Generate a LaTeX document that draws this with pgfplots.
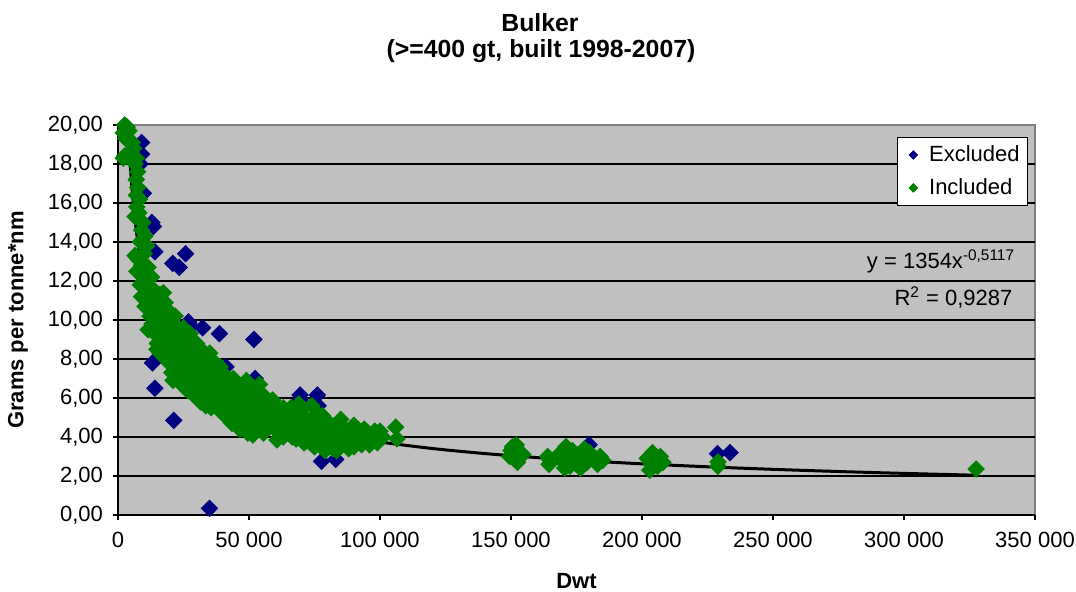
\documentclass[border=0pt]{standalone}
\usepackage{fontspec}
\setmainfont{Liberation Sans}
\usepackage{pgfplots}
\pgfplotsset{compat=1.18}
\definecolor{xlblue}{HTML}{000080}
\definecolor{xlgreen}{HTML}{008000}
\definecolor{xlplot}{HTML}{C0C0C0}
\definecolor{xlframe}{HTML}{808080}

\begin{document}
\begin{tikzpicture}
\useasboundingbox (0,0) rectangle (538pt,296pt);
\begin{axis}[
  at={(59pt,38.5pt)}, anchor=south west,
  scale only axis, width=458.5pt, height=195pt,
  xmin=0, xmax=350000, ymin=0, ymax=20,
  axis background/.style={fill=xlplot, draw=xlframe, line width=0.8pt},
  axis lines*=left, axis line style={-, black, line width=0.8pt},
  xtick={0,50000,...,350000},
  ytick={0,2,...,18}, extra y ticks={20}, extra y tick style={grid=none},
  ymajorgrids, major grid style={black, line width=0.7pt},
  tick align=outside, major tick length=2.5pt, tick style={black, line width=0.6pt},
  scaled x ticks=false,
  ticklabel style={font=\fontsize{11}{13}\selectfont, text=black},
  xticklabel style={yshift=-2.5pt, /pgf/number format/.cd, fixed, 1000 sep={\ }, assume math mode=true},
  yticklabel style={xshift=-1.5pt, /pgf/number format/.cd, fixed, fixed zerofill, precision=2, use comma, assume math mode=true},
  legend style={at={(0.9924,0.969)}, anchor=north east, draw=black, fill=white,
    font=\fontsize{11}{13}\selectfont, row sep=3pt, inner sep=2pt,
    cells={anchor=west}},
  legend image code/.code={\path (-0.05cm,0) (0.35cm,0);
    \draw[#1, mark size=1.5pt] plot coordinates {(0.15cm,0cm)};},
]
\addplot[only marks, color=xlblue, mark=square*, mark size=2.9pt,
  mark options={rotate=45, fill=xlblue, draw=xlblue}] table {
x y
9000 19.1
9000 18.5
8400 18.0
9700 16.5
12900 15.0
13500 14.8
14100 13.5
25800 13.4
20900 12.9
23400 12.7
26900 9.9
27700 9.7
32300 9.6
38700 9.3
51900 9.0
13200 7.8
41200 7.6
14100 6.5
52300 7.0
69500 6.15
69500 5.9
76100 6.15
76400 5.6
21300 4.85
34900 0.34
77700 2.75
83100 2.85
228800 3.15
233600 3.2
179800 3.6
};
\addlegendentry{Excluded}
\addplot[only marks, color=xlgreen, mark=square*, mark size=2.9pt,
  mark options={rotate=45, fill=xlgreen, draw=xlgreen}] table {
x y
2500 20.0
3500 19.9
4200 19.7
2000 19.6
3000 19.3
5500 19.1
6000 18.8
2500 18.4
2000 18.3
7000 18.3
6500 18.0
7500 17.6
7000 17.2
7500 16.8
7000 16.4
8200 16.2
7200 15.8
6500 15.3
8000 15.5
9500 15.0
9000 14.6
10300 14.3
8500 14.0
11000 13.8
10000 13.4
6500 13.3
7800 13.1
9000 12.8
7200 12.5
11500 12.7
10000 12.3
12800 12.2
9700 12.0
8500 11.8
11000 11.6
14000 11.5
9000 11.2
12000 11.0
10300 10.7
13500 10.9
16000 11.3
17300 11.4
18000 10.9
16000 10.5
19800 10.4
12200 10.2
14500 10.2
21800 10.2
13000 9.8
15500 9.9
18500 10.0
11500 9.5
14000 9.3
15000 8.8
16500 9.6
17000 8.9
14800 8.5
18000 9.4
19000 8.6
17500 8.1
20000 9.0
21000 9.8
19500 7.8
21500 8.3
20500 7.3
16000 8.3
19000 9.2
20500 10.0
22000 7.6
23000 8.9
22500 9.5
24000 9.2
23500 7.0
24500 8.2
21000 6.9
25000 6.6
26000 7.4
25500 8.7
27000 9.0
26500 6.4
28000 8.0
27500 7.1
29000 8.5
28500 6.2
30000 7.6
29500 6.8
31000 8.2
30500 6.0
32000 7.2
31500 5.8
33000 8.0
32500 6.6
34000 7.4
33500 5.6
35000 8.3
34500 6.2
36000 7.0
35500 5.5
37000 7.8
36500 6.5
38000 7.2
37500 5.8
39000 6.7
38500 5.4
40000 7.3
39500 6.1
41000 5.6
42000 6.8
41500 5.0
43000 6.3
42500 5.9
44000 7.0
43500 4.7
45000 6.0
44500 5.4
46000 6.6
45500 4.9
47000 5.7
46500 4.4
48000 6.3
47500 5.1
49000 6.9
48500 4.6
50000 5.9
49500 4.2
51000 6.4
50500 5.3
52000 4.9
51500 4.1
53000 6.0
52500 5.6
54000 6.7
53500 4.4
55000 5.2
54500 4.7
56000 5.8
55500 4.2
57000 5.0
58000 5.4
57500 4.5
59000 4.8
60000 5.6
61000 4.3
62000 5.1
63000 4.0
64000 4.6
65000 5.2
66000 4.2
67000 4.8
68000 3.9
69000 4.4
70000 5.4
71000 3.7
72000 4.9
73000 4.1
74000 5.6
75000 3.5
75500 4.6
76000 5.2
77000 3.9
78000 4.3
79000 3.3
80000 4.8
81000 3.8
82000 4.4
83000 3.5
84000 4.1
85000 4.9
86000 3.7
87000 4.3
88000 3.4
89000 4.0
90000 4.6
91000 3.8
92000 4.2
93000 3.6
94000 4.4
95000 3.9
97000 4.1
99000 3.7
101000 4.0
100000 4.3
106000 4.5
106500 3.9
22000 8.6
24000 7.8
25000 9.6
26000 8.1
27000 6.9
28000 7.5
29000 7.2
30000 8.8
31000 6.5
32000 7.8
33000 6.9
34000 6.6
35000 7.3
36000 6.0
37000 6.8
38000 6.4
39000 7.6
40000 5.8
41000 6.5
42000 6.0
43000 5.4
44000 6.2
45000 5.6
46000 5.2
47000 6.1
48000 5.5
49000 5.1
50000 6.5
51000 4.7
52000 5.8
53000 5.1
54000 5.4
55000 6.2
56000 4.9
57000 5.6
58000 4.7
59000 5.9
60000 4.4
61000 5.2
62000 4.6
63000 5.5
64000 4.9
66000 5.5
67000 4.1
68000 5.0
69000 5.7
70000 4.2
71000 5.0
72000 3.8
73000 4.5
74000 4.8
76000 3.8
77000 4.6
78000 5.1
79000 4.0
80000 3.6
81000 4.5
82000 3.4
84000 3.8
86000 4.5
88000 3.9
90000 3.5
92000 3.9
96000 3.6
98000 4.3
22500 7.2
23500 8.4
24500 6.8
25500 7.6
26500 8.4
27500 9.3
28500 7.8
29500 7.6
30500 7.0
31500 7.5
32500 8.4
33500 7.7
34500 7.0
35500 6.8
36500 7.4
37500 6.2
38500 7.0
39500 6.6
40500 6.9
41500 6.3
42500 6.6
43500 5.8
44500 6.4
45500 5.9
46500 5.6
47500 6.5
48500 5.8
49500 6.0
50500 4.8
51500 5.5
52500 5.0
53500 5.8
54500 6.0
55500 5.4
56500 4.6
57500 5.3
58500 5.0
59500 4.5
60500 5.0
61500 4.7
62500 4.3
63500 4.4
65500 4.6
66500 4.0
67500 4.5
68500 5.2
69500 4.8
70500 3.9
71500 4.5
72500 4.3
73500 3.7
74500 4.0
75000 4.4
76500 4.9
77500 3.6
78500 3.8
79500 4.6
80500 4.2
81500 3.5
82500 4.0
83500 3.3
85500 4.2
87500 3.6
89500 4.3
91500 4.4
93500 4.0
95500 4.2
60700 3.85
150000 3.3
152000 3.6
153500 3.2
151000 2.9
149500 3.0
154500 3.1
152500 2.7
150500 3.5
164000 3.0
164500 2.6
165000 2.8
169000 3.2
170000 2.7
171000 3.5
172000 3.0
172500 2.5
173500 3.3
174000 2.8
175000 2.6
176000 3.1
177000 2.9
178000 3.4
179000 2.7
180000 3.2
181000 3.0
182000 2.8
183000 2.6
184000 3.0
185000 2.8
170500 2.4
176500 2.4
202000 2.9
203500 2.6
204000 3.2
205000 2.8
206000 2.5
207000 3.0
208000 2.7
203000 2.3
229000 2.72
229000 2.5
327500 2.36
};
\addlegendentry{Included}
\addplot[black, line width=1.5pt, smooth, forget plot] table {
x y
3780 20.00
4000 19.43
5000 17.33
6000 15.79
7000 14.59
8000 13.63
10000 12.16
12000 11.07
14000 10.23
16000 9.558
18000 9.000
20000 8.527
25000 7.607
30000 6.929
35000 6.403
40000 5.980
50000 5.335
60000 4.860
70000 4.491
80000 4.194
90000 3.949
100000 3.742
120000 3.409
140000 3.150
160000 2.942
180000 2.770
200000 2.624
230000 2.443
260000 2.295
290000 2.170
327000 2.041
};
\node[anchor=base east, font=\fontsize{11}{13}\selectfont]
  at (axis description cs:0.986,0.631) {y = 1354x\textsuperscript{-0,5117}};
\node[anchor=base east, font=\fontsize{11}{13}\selectfont]
  at (axis description cs:0.983,0.538) {R\textsuperscript{2} = 0,9287};
\end{axis}
\node[anchor=base, font=\bfseries\fontsize{12.4}{14}\selectfont] at (270pt,280pt) {Bulker};
\node[anchor=base, font=\bfseries\fontsize{12.4}{14}\selectfont] at (270.5pt,267pt) {(>=400 gt, built 1998-2007)};
\node[rotate=90, font=\bfseries\fontsize{11}{13}\selectfont] at (9pt,136pt) {Grams per tonne*nm};
\node[anchor=base, font=\bfseries\fontsize{11}{13}\selectfont] at (288.25pt,1.5pt) {Dwt};
\end{tikzpicture}
\end{document}
